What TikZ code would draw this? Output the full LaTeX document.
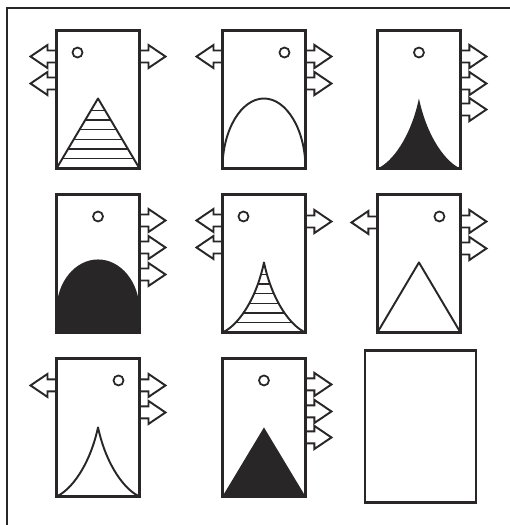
\documentclass[tikz,border=0pt]{standalone}
\usepackage{xcolor}
\usepackage{tikz}
\usetikzlibrary{calc, positioning}
\definecolor{ink}{RGB}{40,38,38}

% hollow block arrows, drawn from the card edge outwards
\tikzset{
    pics/outR/.style={code={\draw[blockarrow] (0,-6) -- (9,-6) -- (9,-11.5) -- (26,0) -- (9,11.5) -- (9,6) -- (0,6);}},
    pics/outL/.style={code={\draw[blockarrow] (0,-6) -- (-9,-6) -- (-9,-11.5) -- (-26,0) -- (-9,11.5) -- (-9,6) -- (0,6);}}
}

\begin{document}
\begin{tikzpicture}[
    x=0.02cm, y=-0.02cm,
    card/.style={rectangle, draw=ink, line width=1.3pt, minimum width=1.66cm, minimum height=2.76cm, outer sep=0pt, inner sep=0pt},
    bigcard/.style={card, minimum width=2.22cm, minimum height=3.04cm},
    blockarrow/.style={draw=ink, line width=1.1pt, line join=miter},
    hole/.style={draw=ink, line width=1pt},
    figline/.style={draw=ink, line width=1.1pt, line join=round},
    stripe/.style={draw=ink, line width=0.8pt}
]

\useasboundingbox (0,0) rectangle (510,525);

% Frame (cut off on the right and at the bottom)
\draw[ink, line width=1.1pt] (7,525) -- (7,8) -- (510,8);

% Cards
\node[card] (c1) at (98,99.5) {};
\node[card, right=1.66cm of c1] (c2) {};
\node[card, right=1.44cm of c2] (c3) {};
\node[card, below=0.52cm of c1] (c4) {};
\node[card, below=0.52cm of c2] (c5) {};
\node[card, below=0.52cm of c3] (c6) {};
\node[card, below=0.52cm of c4] (c7) {};
\node[card, below=0.52cm of c5] (c8) {};
\node[bigcard, below=0.36cm of c6, xshift=0.03cm] (c9) {};

% Holes
\draw[hole] ($(c1.north west)+(21,22)$) circle (5);
\draw[hole] ($(c2.north west)+(62,22)$) circle (5);
\draw[hole] ($(c3.north west)+(41.5,22)$) circle (5);
\draw[hole] ($(c4.north west)+(41.5,22)$) circle (5);
\draw[hole] ($(c5.north west)+(21,22)$) circle (5);
\draw[hole] ($(c6.north west)+(62,22)$) circle (5);
\draw[hole] ($(c7.north west)+(62,22)$) circle (5);
\draw[hole] ($(c8.north west)+(41.5,22)$) circle (5);

% Arrows
\foreach \d in {26,53} \pic at ($(c1.north west)+(0,\d)$) {outL};
\pic at ($(c1.north east)+(0,26)$) {outR};
\pic at ($(c2.north west)+(0,26)$) {outL};
\foreach \d in {26,53} \pic at ($(c2.north east)+(0,\d)$) {outR};
\foreach \d in {26,53,79} \pic at ($(c3.north east)+(0,\d)$) {outR};
\foreach \d in {26,53,80} \pic at ($(c4.north east)+(0,\d)$) {outR};
\foreach \d in {26,53} \pic at ($(c5.north west)+(0,\d)$) {outL};
\pic at ($(c5.north east)+(0,27)$) {outR};
\pic at ($(c6.north west)+(0,28)$) {outL};
\foreach \d in {27,54} \pic at ($(c6.north east)+(0,\d)$) {outR};
\pic at ($(c7.north west)+(0,27)$) {outL};
\foreach \d in {27,54} \pic at ($(c7.north east)+(0,\d)$) {outR};
\foreach \d in {26,53,79} \pic at ($(c8.north east)+(0,\d)$) {outR};

% Row 1: striped triangle, open arch, black cusp
\begin{scope}[shift={(c1.south west)}]
    \begin{scope}
        \clip (0,0) -- (41.5,-70) -- (83,0) -- cycle;
        \foreach \d in {10,19.6,...,60} \draw[stripe] (0,-\d) -- (83,-\d);
    \end{scope}
    \draw[figline] (0,0) -- (41.5,-70) -- (83,0);
\end{scope}
\begin{scope}[shift={(c2.south west)}]
    \draw[figline] (0,0) .. controls (0,-38.7) and (18.9,-70) .. (41.5,-70) .. controls (64.1,-70) and (83,-38.7) .. (83,0);
\end{scope}
\begin{scope}[shift={(c3.south west)}]
    \fill[ink] (0,0) .. controls (14,-6) and (33,-30) .. (41.5,-70) .. controls (50,-30) and (69,-6) .. (83,0) -- cycle;
\end{scope}

% Row 2: black arch, striped cusp, open triangle
\begin{scope}[shift={(c4.south west)}]
    \fill[ink] (0,0) -- (0,-22) .. controls (0,-50.2) and (18.6,-73) .. (41.5,-73) .. controls (64.4,-73) and (83,-50.2) .. (83,-22) -- (83,0) -- cycle;
\end{scope}
\begin{scope}[shift={(c5.south west)}]
    \begin{scope}
        \clip (0,0) .. controls (14,-6) and (33,-30) .. (41.5,-70) .. controls (50,-30) and (69,-6) .. (83,0) -- cycle;
        \foreach \d in {10,19.6,...,60} \draw[stripe] (0,-\d) -- (83,-\d);
    \end{scope}
    \draw[figline] (0,0) .. controls (14,-6) and (33,-30) .. (41.5,-70) .. controls (50,-30) and (69,-6) .. (83,0);
\end{scope}
\begin{scope}[shift={(c6.south west)}]
    \draw[figline] (0,0) -- (41.5,-70) -- (83,0);
\end{scope}

% Row 3: open cusp, black triangle, empty card
\begin{scope}[shift={(c7.south west)}]
    \draw[figline] (0,0) .. controls (14,-6) and (33,-30) .. (41.5,-69) .. controls (50,-30) and (69,-6) .. (83,0);
\end{scope}
\begin{scope}[shift={(c8.south west)}]
    \fill[ink] (0,0) -- (41.5,-69) -- (83,0) -- cycle;
\end{scope}

\end{tikzpicture}
\end{document}
